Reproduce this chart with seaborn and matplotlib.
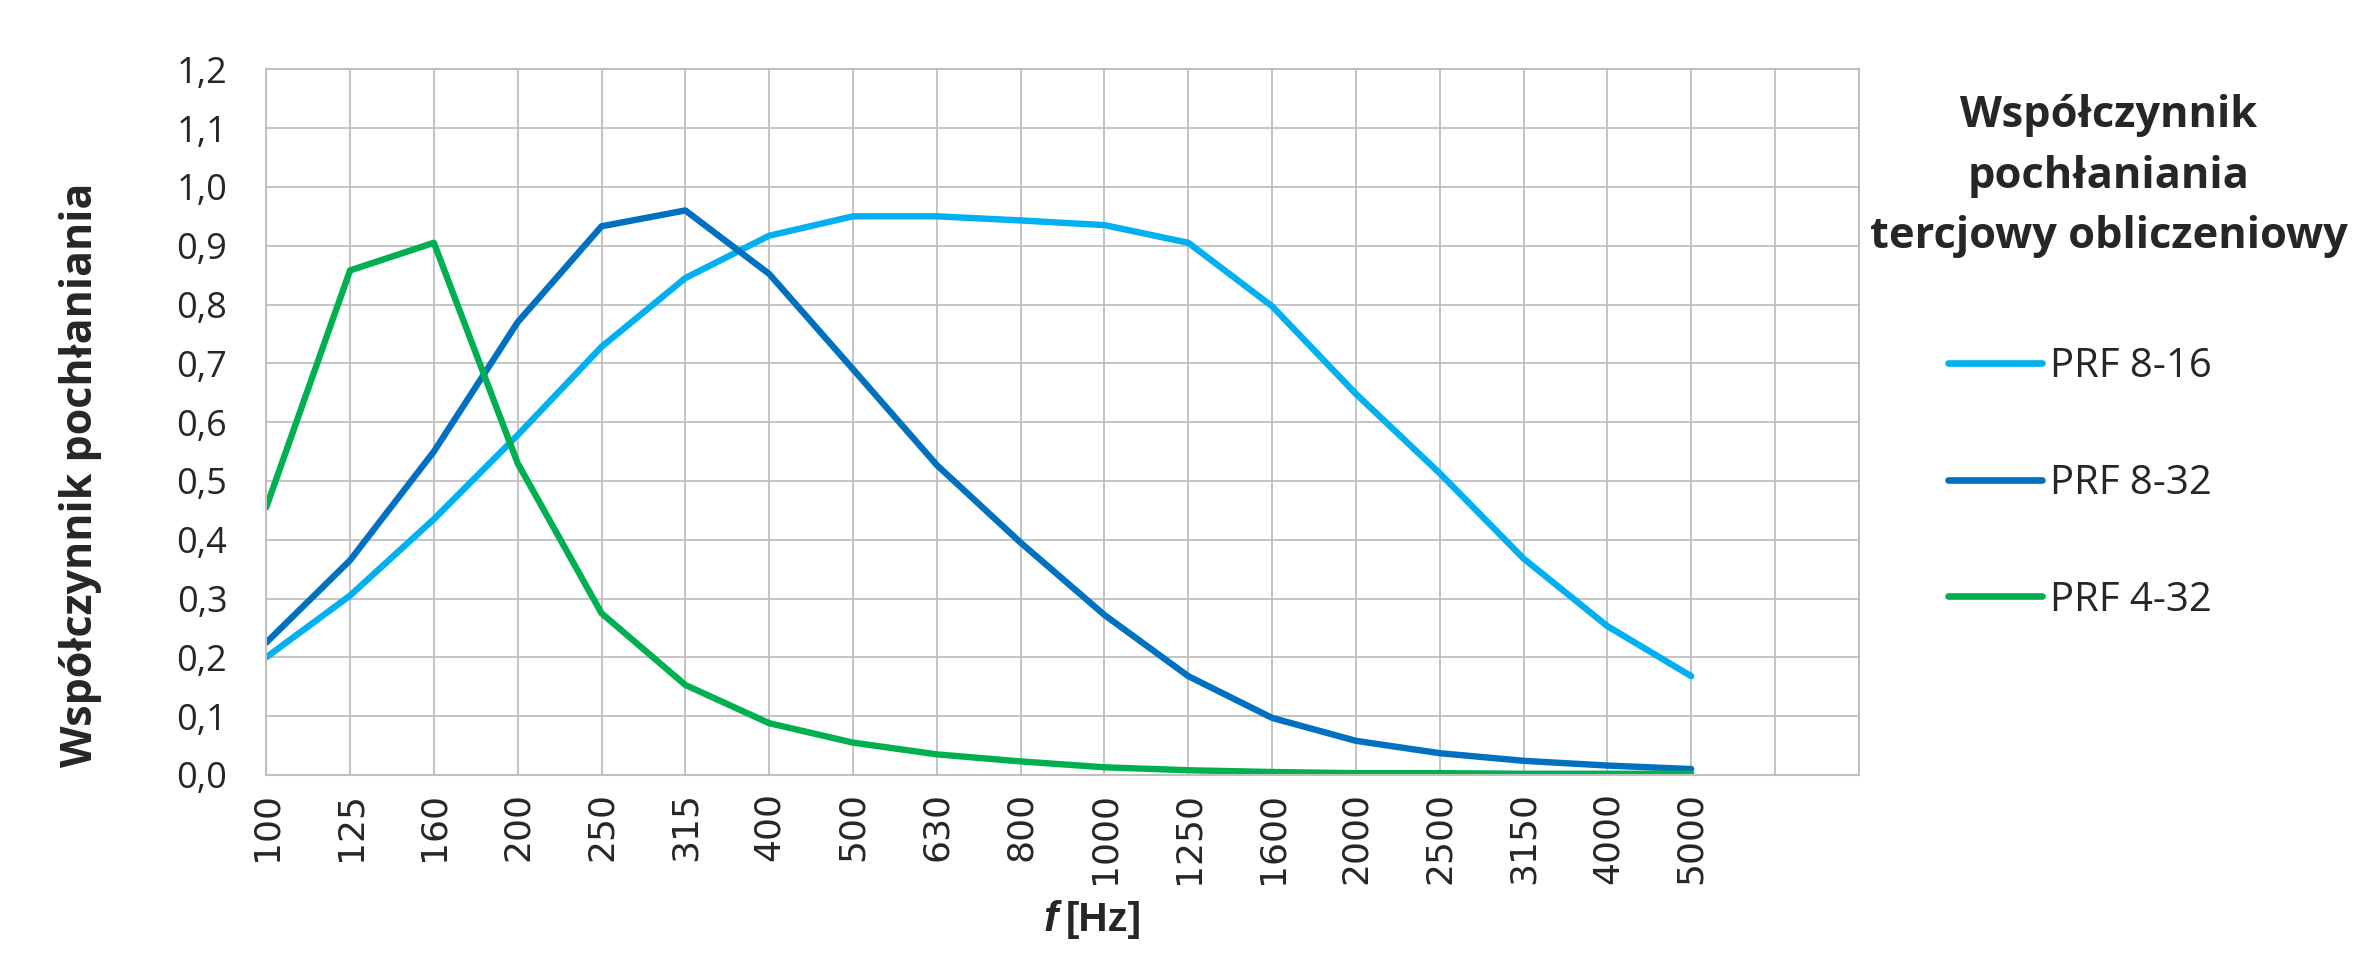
import numpy as np
import pandas as pd
import matplotlib
matplotlib.use("Agg")
import matplotlib.pyplot as plt
import seaborn as sns

# tercja frequencies [Hz]
freqs = ["100", "125", "160", "200", "250", "315", "400", "500", "630", "800",
         "1000", "1250", "1600", "2000", "2500", "3150", "4000", "5000"]

prf_8_16 = [0.20, 0.305, 0.435, 0.578, 0.728, 0.845, 0.917, 0.950, 0.950, 0.943,
            0.935, 0.905, 0.797, 0.648, 0.513, 0.368, 0.253, 0.168]
prf_8_32 = [0.225, 0.365, 0.55, 0.77, 0.933, 0.96, 0.852, 0.69, 0.527, 0.395,
            0.272, 0.168, 0.097, 0.058, 0.037, 0.024, 0.016, 0.010]
prf_4_32 = [0.455, 0.858, 0.905, 0.53, 0.275, 0.153, 0.088, 0.055, 0.035, 0.023,
            0.013, 0.008, 0.005, 0.003, 0.003, 0.002, 0.002, 0.002]

series = ["PRF 8-16", "PRF 8-32", "PRF 4-32"]
colors = ["#00B0F0", "#0070C0", "#00B050"]

df = pd.DataFrame({
    "f": freqs * 3,
    "alpha": prf_8_16 + prf_8_32 + prf_4_32,
    "typ": sum([[s] * len(freqs) for s in series], []),
})

sns.set_style("white")
plt.rcParams["font.family"] = ["Open Sans", "DejaVu Sans"]

fig = plt.figure(figsize=(23.56, 9.76), dpi=100)
ax = fig.add_axes([0.113, 0.206, 0.676, 0.723])

sns.lineplot(data=df, x="f", y="alpha", hue="typ", palette=dict(zip(series, colors)),
             linewidth=4.6, sort=False, legend=False, ax=ax)

ax.set_xlim(0, 19)
ax.set_ylim(0, 1.2)
ax.set_xticks(range(20))
ax.set_xticklabels(freqs + ["", ""], rotation=90, fontsize=26, family="DejaVu Sans")
yt = np.round(np.arange(0, 1.21, 0.1), 1)
ax.set_yticks(yt)
ax.set_yticklabels([f"{v:.1f}".replace(".", ",") for v in yt], fontsize=26)
ax.tick_params(axis="both", length=0)
ax.tick_params(axis="y", pad=28)
ax.tick_params(axis="x", pad=12)
ax.grid(True, color="#BFBFBF", linewidth=1.3)
ax.set_axisbelow(True)
for sp in ax.spines.values():
    sp.set_color("#BFBFBF")
    sp.set_linewidth(1.5)

ax.set_xlabel("")
ax.set_ylabel("Współczynnik pochłaniania", fontsize=31, fontweight="bold")
ax.yaxis.set_label_coords(-0.103, 0.425)

ax.text(0.497, -0.205, "f", transform=ax.transAxes, fontsize=31, fontweight="bold",
        style="italic", family="Liberation Sans", ha="right", va="center")
ax.text(0.502, -0.205, "[Hz]", transform=ax.transAxes, fontsize=29, fontweight="bold",
        family="Liberation Sans", ha="left", va="center")

# legend title
fig.text(0.8951, 0.904, "Współczynnik\npochłaniania\ntercjowy obliczeniowy",
         fontsize=31.2, fontweight="bold", ha="center", va="top",
         multialignment="center", linespacing=1.54)

handles = [plt.Line2D([], [], color=c, linewidth=4.8, solid_capstyle="round") for c in colors]
leg = ax.legend(handles, series, loc="upper left", bbox_to_anchor=(0.8268, 0.645),
                bbox_transform=fig.transFigure, frameon=False, fontsize=28.9,
                handlelength=2.35, handletextpad=0.2, labelspacing=1.9,
                borderpad=0, borderaxespad=0)

plt.savefig("out.png", dpi=100)
